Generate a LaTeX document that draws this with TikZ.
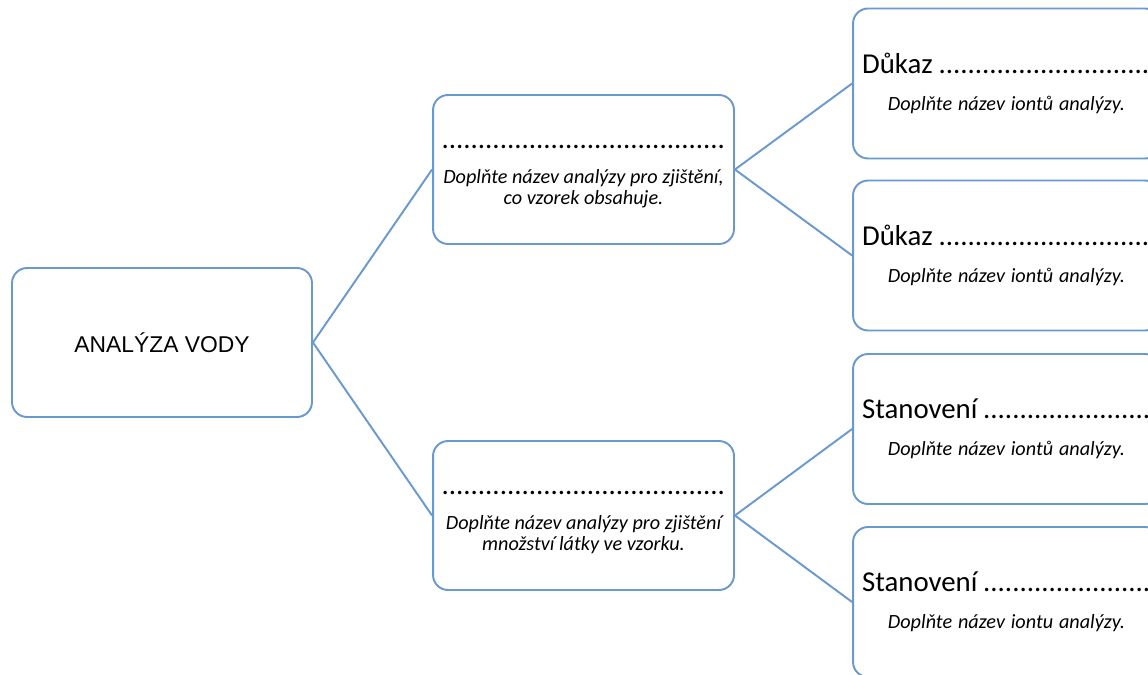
\documentclass[tikz,border=0pt]{standalone}
\usepackage{fontspec}
\setmainfont{Carlito}
\newfontfamily\arialfont{Liberation Sans}
\usetikzlibrary{positioning}
\definecolor{boxblue}{RGB}{106,153,206}
\newcommand{\leadtext}{\fontsize{16.4}{20}\selectfont}
\newcommand{\hinttext}{\fontsize{11.5}{13.5}\selectfont\itshape}
\newcommand{\hintline}[1]{\makebox[5.78cm][c]{\hinttext #1}}

\begin{document}
\begin{tikzpicture}[x=0.02cm, y=-0.02cm,
            box/.style = {draw=boxblue, line width=1.1pt, rounded corners=0.3cm,
                fill=white, align=center, inner sep=0pt,
                minimum width=6.02cm, minimum height=2.98cm},
            leafbox/.style = {box, minimum width=6.14cm, minimum height=3cm,
                text width=5.78cm, align=left},
            link/.style = {draw=boxblue, line width=1.1pt}]
            \useasboundingbox (0,0) rectangle (1148,675);
            % root
            \node[box, minimum width=6cm](root) at (162,342.5)
                {\arialfont\fontsize{13}{16}\selectfont ANALÝZA VODY};
            % middle level
            \node[box](m1) at (583.5,169.5)
                {\rule{0pt}{10pt}\leadtext .......................................\\[8pt]
                 \hinttext Doplňte název analýzy pro zjištění,\\
                 \hinttext co vzorek obsahuje.};
            \node[box](m2) at (583.5,515.5)
                {\rule{0pt}{10pt}\leadtext .......................................\\[8pt]
                 \hinttext Doplňte název analýzy pro zjištění\\
                 \hinttext množství látky ve vzorku.};
            % leaves
            \node[leafbox](r1) at (1006.5,83.5)
                {\mbox{\leadtext Důkaz ..............................}\\[9pt]
                 \hintline{Doplňte název iontů analýzy.}};
            \node[leafbox](r2) at (1006.5,255.5)
                {\mbox{\leadtext Důkaz ..............................}\\[9pt]
                 \hintline{Doplňte název iontů analýzy.}};
            \node[leafbox](r3) at (1006.5,429)
                {\mbox{\leadtext Stanovení .........................}\\[9pt]
                 \hintline{Doplňte název iontů analýzy.}};
            \node[leafbox](r4) at (1006.5,602)
                {\mbox{\leadtext Stanovení .........................}\\[9pt]
                 \hintline{Doplňte název iontu analýzy.}};
            \path[link]
                (root.east) edge (m1.west)
                (root.east) edge (m2.west)
                (m1.east) edge (r1.west)
                (m1.east) edge (r2.west)
                (m2.east) edge (r3.west)
                (m2.east) edge (r4.west);
        \end{tikzpicture}
\end{document}
